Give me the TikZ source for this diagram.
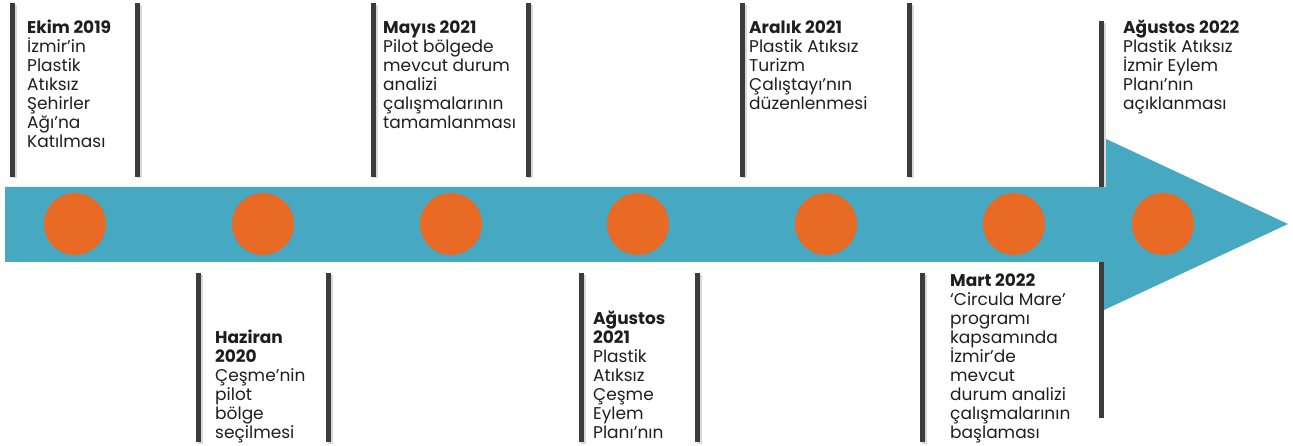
\documentclass[tikz,border=0pt]{standalone}
\usepackage{fontspec}
\setmainfont{Poppins}
\definecolor{band}{HTML}{47A8C2}
\definecolor{dot}{HTML}{E86A25}
\definecolor{bar}{HTML}{3C3C3C}
\definecolor{txt}{HTML}{1E1E1E}
\newcommand{\lblfont}{\fontsize{17}{19}\selectfont\lineskiplimit=-20pt\relax}
\tikzset{
  barline/.style={line width=5pt, draw=bar},
  barshadow/.style={line width=5pt, draw=black!15},
  dotc/.style={circle, fill=dot, minimum size=62pt, inner sep=0pt},
  lbl/.style={anchor=base west, align=left, inner sep=0pt, text=txt,
    font=\lblfont},
}
\newcommand{\ttl}[1]{\textbf{#1}}
\begin{document}
\begin{tikzpicture}[x=1pt,y=-1pt]
\useasboundingbox (0,0) rectangle (1293,446);
% arrow
\fill[band] (5,187) -- (1104,187) -- (1104,138) -- (1288,224) -- (1104,310) -- (1104,262) -- (5,262) -- cycle;
% dots
\foreach \n/\x in {d1/75,d2/263,d3/451,d4/638,d5/826,d6/1014,d7/1163}
  \node[dotc] (\n) at (\x,224) {};
% top bars
\foreach \x in {12,137,373,528,742,909}{
  \draw[barshadow] (\x+2,5) -- (\x+2,178);
  \draw[barline] (\x,3) -- (\x,177);
}
\draw[barshadow] (1103,23) -- (1103,187);
\draw[barline] (1101,21) -- (1101,187);
% bottom bars
\foreach \x in {198,328,581,697,922}{
  \draw[barshadow] (\x+2,275) -- (\x+2,444);
  \draw[barline] (\x,273) -- (\x,442);
}
\draw[barline] (1101,262) -- (1101,418);
% labels (anchored at the baseline of their last line)
\node[lbl] (t1) at (27,148) {\ttl{Ekim 2019}\\İzmir’in\\Plastik\\Atıksız\\Şehirler\\Ağı’na\\Katılması};
\node[lbl] (t2) at (383,129) {\ttl{Mayıs 2021}\\Pilot bölgede\\mevcut durum\\analizi\\çalışmalarının\\tamamlanması};
\node[lbl] (t3) at (749,110) {\ttl{Aralık 2021}\\Plastik Atıksız\\Turizm\\Çalıştayı’nın\\düzenlenmesi};
\node[lbl] (t4) at (1123,110) {\ttl{Ağustos 2022}\\Plastik Atıksız\\İzmir Eylem\\Planı’nın\\açıklanması};
\node[lbl] (b1) at (215,438) {\ttl{Haziran}\\\ttl{2020}\\Çeşme’nin\\pilot\\bölge\\seçilmesi};
\node[lbl] (b2) at (593,438) {\ttl{Ağustos}\\\ttl{2021}\\Plastik\\Atıksız\\Çeşme\\Eylem\\Planı’nın};
\node[lbl] (b3) at (950,438) {\ttl{Mart 2022}\\‘Circula Mare’\\programı\\kapsamında\\İzmir’de\\mevcut\\durum analizi\\çalışmalarının\\başlaması};
\end{tikzpicture}
\end{document}
